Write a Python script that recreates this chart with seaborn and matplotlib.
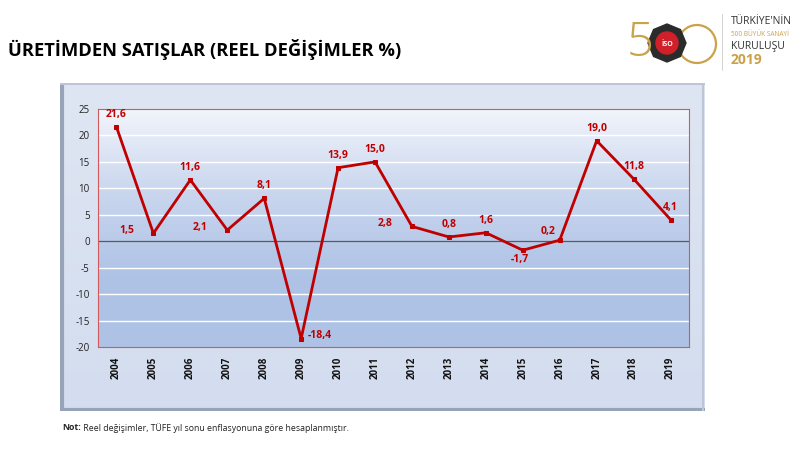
import numpy as np
import pandas as pd
import matplotlib
matplotlib.use("Agg")
import matplotlib.pyplot as plt
from matplotlib.colors import LinearSegmentedColormap
from matplotlib.patches import Circle, RegularPolygon
import seaborn as sns

years = ["2004", "2005", "2006", "2007", "2008", "2009", "2010", "2011",
         "2012", "2013", "2014", "2015", "2016", "2017", "2018", "2019"]
values = [21.6, 1.5, 11.6, 2.1, 8.1, -18.4, 13.9, 15.0,
          2.8, 0.8, 1.6, -1.7, 0.2, 19.0, 11.8, 4.1]
# label placement: direction of each data label relative to its point
label_pos = ["above", "left", "above", "left", "above", "right", "above", "above",
             "left", "above", "above", "below", "aboveleft", "above", "above", "above"]
yticks = [-20, -15, -10, -5, 0, 5, 10, 15, 20, 25]

title = "ÜRETİMDEN SATIŞLAR (REEL DEĞİŞİMLER %)"
note_bold = "Not:"
note_text = " Reel değişimler, TÜFE yıl sonu enflasyonuna göre hesaplanmıştır."

sns.set_style("white")
plt.rcParams['font.family'] = ['Open Sans', 'DejaVu Sans']

W, H = 800, 450
fig = plt.figure(figsize=(8, 4.5), dpi=100)
fig.patch.set_facecolor("white")

def fx(px): return px / W
def fy(py): return 1 - py / H

# outer panel
pan = fig.add_axes([fx(60), fy(411), fx(705) - fx(60), fy(83) - fy(411)])
pan.set_axis_off()
pgrad = LinearSegmentedColormap.from_list("p", ["#dfe6f3", "#d3ddef"])
pan.imshow(np.linspace(0, 1, 100).reshape(-1, 1), cmap=pgrad, aspect="auto",
           extent=[0, 1, 0, 1], origin="upper")
pan.set_xlim(0, 1); pan.set_ylim(0, 1)
pan.plot([0.003, 0.003], [0, 1], color="#97a3b6", lw=3, solid_capstyle="butt")
pan.plot([0, 1], [0.004, 0.004], color="#97a3b6", lw=3, solid_capstyle="butt")
pan.plot([0.997, 0.997], [0, 1], color="#bcc6d6", lw=1.5)
pan.plot([0, 1], [0.997, 0.997], color="#bcc6d6", lw=1.5)

# plot area
ax = fig.add_axes([fx(98), fy(347), fx(689) - fx(98), fy(109) - fy(347)])
df = pd.DataFrame({"year": years, "value": values})
df["x"] = np.arange(len(years))

grad = LinearSegmentedColormap.from_list(
    "g", [(0, "#f1f4fb"), (0.35, "#c9d6ee"), (0.7, "#afc3e6"), (1, "#aec2e6")])
ax.imshow(np.linspace(0, 1, 200).reshape(-1, 1), cmap=grad, aspect="auto",
          extent=[-0.5, len(years) - 0.5, -20, 25], origin="upper", zorder=0)

for t in yticks[1:-1]:
    if t != 0:
        ax.axhline(t, color="white", lw=1, zorder=1)
ax.axhline(0, color="#5a5a5a", lw=0.9, zorder=2)

sns.lineplot(data=df, x="x", y="value", ax=ax, color="#c00000", lw=2,
             marker="s", markersize=3.5, markeredgecolor="#c00000", zorder=3)

offsets = {"above": (0, 5, "center", "bottom"),
           "left": (-14, 2, "right", "center"),
           "right": (5, 2, "left", "center"),
           "below": (-2, -3, "center", "top"),
           "aboveleft": (-3, 2, "right", "bottom")}
for xi, v, pos in zip(df["x"], values, label_pos):
    dx, dy, ha, va = offsets[pos]
    ax.annotate(f"{v:.1f}".replace(".", ","), (xi, v), xytext=(dx, dy),
                textcoords="offset points", ha=ha, va=va, fontsize=7.5,
                fontweight="bold", color="#c00000", zorder=4)

ax.set_xlim(-0.5, len(years) - 0.5)
ax.set_ylim(-20, 25)
ax.set_yticks(yticks)
ax.set_yticklabels([str(t) for t in yticks], fontsize=7, color="#222222")
ax.set_xticks(df["x"])
ax.set_xticklabels(years, rotation=90, fontsize=7, fontweight="bold", color="#111111")
ax.tick_params(axis="both", length=0, pad=6)
ax.tick_params(axis="x", pad=7)
ax.set_xlabel(""); ax.set_ylabel("")
for s in ax.spines.values():
    s.set_visible(True)
    s.set_color("#d05a5a")
    s.set_linewidth(0.8)

# title
fig.text(fx(8), fy(50), title, fontsize=13.2, fontweight="bold", color="black",
         ha="left", va="center")

# note
t1 = fig.text(fx(62), fy(428), note_bold, fontsize=6.3, fontweight="bold", ha="left", va="center")
fig.canvas.draw()
bb = t1.get_window_extent()
fig.text(bb.x1 / W, fy(428), note_text, fontsize=6.3, ha="left", va="center", color="#222222")

# logo (decoration), drawn in pixel coordinates
lg = fig.add_axes([0, 0, 1, 1], facecolor="none")
lg.set_xlim(0, W); lg.set_ylim(H, 0); lg.set_axis_off()
gold = "#c9a24a"
lg.text(640, 44, "5", fontsize=34, color=gold, ha="center", va="center", fontweight="light")
lg.add_patch(Circle((697, 44), 19, fill=False, ec=gold, lw=1.6))
lg.add_patch(RegularPolygon((667, 43), numVertices=8, radius=19, color="#2b2b2b"))
lg.add_patch(Circle((667, 43), 16, color="#2b2b2b"))
lg.add_patch(Circle((667, 43), 11, color="#d0202a"))
lg.text(667, 44, "İSO", fontsize=5, color="white", ha="center", va="center", fontweight="bold")
lg.plot([722, 722], [14, 70], color="#cccccc", lw=0.6)
lg.text(731, 22, "TÜRKİYE'NİN", fontsize=7.5, color="#333333", ha="left", va="center")
lg.text(731, 34, "500 BÜYÜK SANAYİ", fontsize=4.7, color=gold, ha="left", va="center")
lg.text(731, 46, "KURULUŞU", fontsize=7.5, color="#333333", ha="left", va="center")
lg.text(731, 60, "2019", fontsize=10, color=gold, ha="left", va="center", fontweight="bold")

fig.savefig("out.png", dpi=100, facecolor="white")
